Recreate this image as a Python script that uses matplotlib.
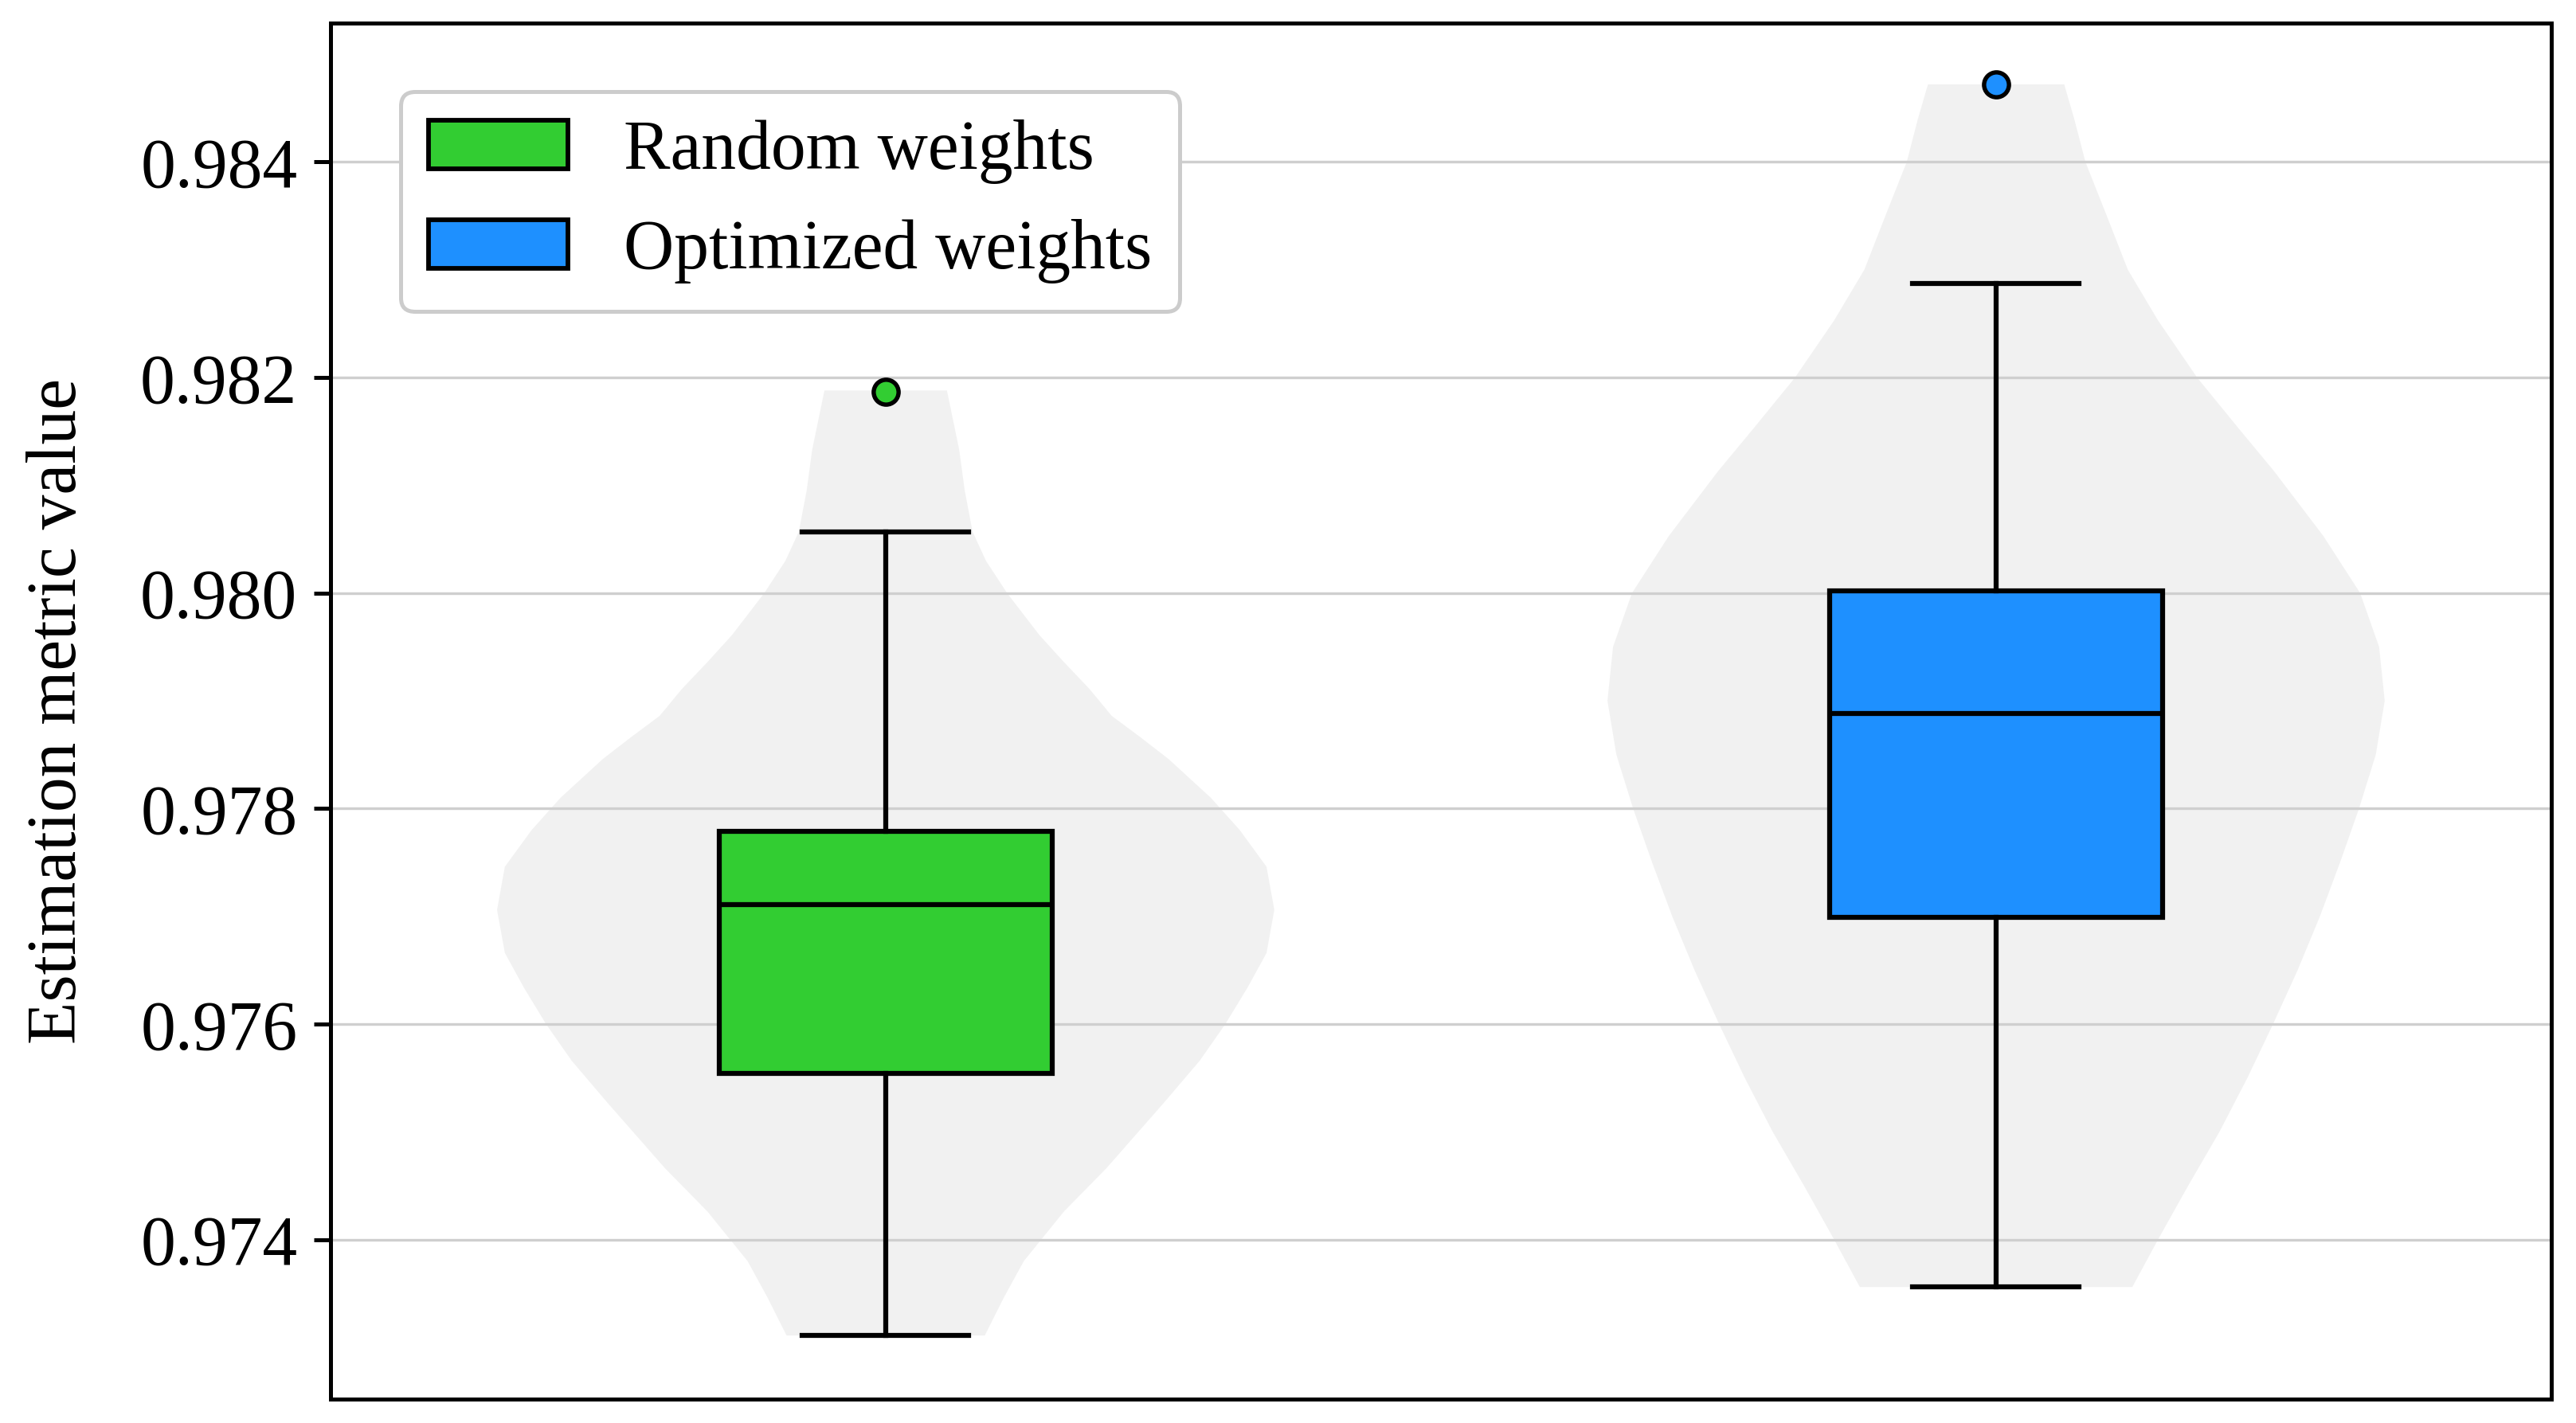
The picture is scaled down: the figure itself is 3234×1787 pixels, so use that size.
import matplotlib
matplotlib.use('Agg')
import matplotlib.pyplot as plt
from matplotlib.patches import Patch
import numpy as np

plt.rcParams['font.family'] = ['Liberation Serif', 'DejaVu Serif']

# groups
labels = ['Random weights', 'Optimized weights']
colors = ['#32CD32', '#1E90FF']

# box statistics
medians = [0.97711, 0.97888]
q1s = [0.97554, 0.97699]
q3s = [0.97779, 0.98002]
whis_lo = [0.97311, 0.97356]
whis_hi = [0.98057, 0.98287]
fliers = [[0.98187], [0.98472]]

# violin outlines: y value -> relative half width
violin_y_random = [0.97311, 0.97346, 0.97380, 0.97426, 0.97466, 0.97526, 0.97566,
                   0.97600, 0.97634, 0.97666, 0.97706, 0.97746, 0.97780, 0.97810,
                   0.97846, 0.97866, 0.97886, 0.97911, 0.97936, 0.97961, 0.98000,
                   0.98030, 0.98057, 0.98095, 0.98133, 0.98188]
violin_w_random = [0.089, 0.106, 0.124, 0.160, 0.198, 0.249, 0.282,
                   0.305, 0.325, 0.342, 0.349, 0.342, 0.318, 0.292,
                   0.254, 0.229, 0.203, 0.183, 0.160, 0.138, 0.109,
                   0.090, 0.078, 0.071, 0.066, 0.055]
violin_y_optim = [0.97356, 0.97400, 0.97450, 0.97500, 0.97550, 0.97600, 0.97650,
                  0.97700, 0.97750, 0.97800, 0.97850, 0.97900, 0.97950, 0.98000,
                  0.98053, 0.98113, 0.98153, 0.98200, 0.98253, 0.98300, 0.98353,
                  0.98400, 0.98440, 0.98472]
violin_w_optim = [0.122, 0.145, 0.172, 0.200, 0.225, 0.248, 0.270,
                  0.290, 0.308, 0.325, 0.340, 0.348, 0.343, 0.326,
                  0.293, 0.249, 0.217, 0.180, 0.145, 0.118, 0.098,
                  0.080, 0.070, 0.061]

yticks = [0.974, 0.976, 0.978, 0.980, 0.982, 0.984]

fig = plt.figure(figsize=(10.78, 5.957), dpi=300)
ax = fig.add_axes([0.1283, 0.0168, 0.9904 - 0.1283, 0.9838 - 0.0168])

# violins from the read outlines
vpstats = []
for ys, ws in [(violin_y_random, violin_w_random), (violin_y_optim, violin_w_optim)]:
    vpstats.append(dict(coords=np.array(ys), vals=np.array(ws),
                        mean=np.nan, median=np.nan, min=ys[0], max=ys[-1]))
vp = ax.violin(vpstats, positions=[0, 1], widths=0.7,
               showmeans=False, showextrema=False, showmedians=False)
for body in vp['bodies']:
    body.set_facecolor('#d3d3d3')
    body.set_edgecolor('none')
    body.set_alpha(0.3)
    body.set_zorder(0.4)

# boxes
stats = []
for i in range(2):
    stats.append(dict(med=medians[i], q1=q1s[i], q3=q3s[i],
                      whislo=whis_lo[i], whishi=whis_hi[i], fliers=fliers[i]))
bp = ax.bxp(stats, positions=[0, 1], widths=0.3, patch_artist=True,
            boxprops=dict(linewidth=1.5, edgecolor='black'),
            whiskerprops=dict(linewidth=1.5, color='black'),
            capprops=dict(linewidth=1.5, color='black'),
            medianprops=dict(linewidth=1.5, color='black'),
            flierprops=dict(marker='o', markersize=7.5, markeredgecolor='black',
                            markeredgewidth=1.3))
for patch, flier, c in zip(bp['boxes'], bp['fliers'], colors):
    patch.set_facecolor(c)
    flier.set_markerfacecolor(c)

ax.set_xlim(-0.5, 1.5)
ax.set_ylim(0.97252, 0.98529)
ax.set_xticks([])
ax.set_yticks(yticks)
ax.set_yticklabels(['%.3f' % t for t in yticks])
ax.tick_params(axis='y', labelsize=21, length=5, width=1.2, pad=5)
ax.set_ylabel('Estimation metric value', fontsize=21, labelpad=15)
for s in ax.spines.values():
    s.set_linewidth(1.2)

ax.set_axisbelow(True)
ax.yaxis.grid(True, color='#cfcfcf', linewidth=0.8)

handles = [Patch(facecolor=c, edgecolor='black', linewidth=1.4) for c in colors]
leg = ax.legend(handles, labels, loc='upper left', bbox_to_anchor=(0.0316, 0.950),
                borderaxespad=0, fontsize=21, frameon=True, fancybox=True,
                framealpha=1, labelspacing=0.5, handletextpad=0.8)
leg.get_frame().set_edgecolor('#cccccc')
leg.get_frame().set_linewidth(1.2)

fig.savefig('out.png', dpi=300)
